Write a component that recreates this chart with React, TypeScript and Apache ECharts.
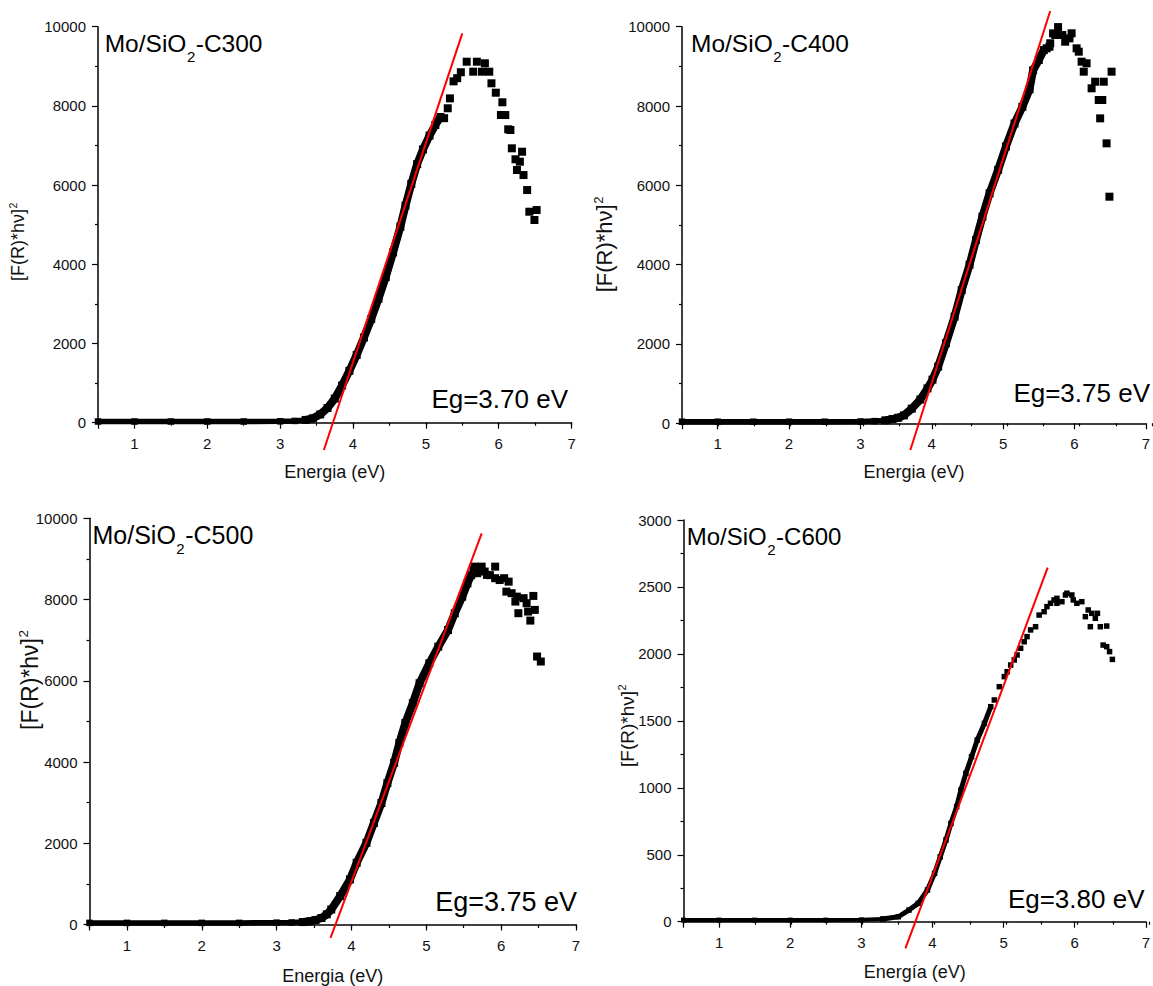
import React, { useEffect, useRef } from 'react';
import * as echarts from 'echarts';

const FONT = '"Liberation Sans", Arial, Helvetica, sans-serif';

// ---------------- data ----------------
const titlePrefix = 'Mo/SiO';
const titleSub = '2';
const titleSuffixes = ['-C300', '-C400', '-C500', '-C600'];
const egLabels = ['Eg=3.70 eV', 'Eg=3.75 eV', 'Eg=3.75 eV', 'Eg=3.80 eV'];
const xNames = ['Energia (eV)', 'Energia (eV)', 'Energia (eV)', 'Energía (eV)'];
const yNameMain = '[F(R)*hν]';
const yNameSup = '2';
const yMaxes = [10000, 10000, 10000, 3000];
const yIntervals = [2000, 2000, 2000, 500];
const xMin = 0.5;
const xMax = 7;
const edgeStart = 3.35; // energy where the flat baseline turns into the absorption edge

const dense300 = [
  [0.5, 30], [1.0, 30], [1.5, 30], [2.0, 30], [2.5, 30], [3.0, 35], [3.2, 45], [3.35, 70], [3.45, 110],
  [3.55, 210], [3.65, 370], [3.75, 610], [3.85, 940], [3.95, 1310], [4.05, 1710], [4.15, 2150], [4.25, 2620],
  [4.35, 3130], [4.45, 3680], [4.55, 4300], [4.65, 4950], [4.72, 5480], [4.8, 6030], [4.88, 6530], [4.96, 6900],
  [5.05, 7250], [5.13, 7520], [5.2, 7720],
];
const peak300 = [
  [5.25, 7690], [5.3, 7940], [5.33, 8190], [5.38, 8620], [5.43, 8700], [5.48, 8850], [5.56, 9116], [5.65, 8864],
  [5.7, 9116], [5.77, 8864], [5.81, 9076], [5.87, 8864], [5.9, 8571], [5.96, 8333], [6.03, 7770], [6.05, 8091],
  [6.09, 7769], [6.13, 7409], [6.16, 7391], [6.18, 6929], [6.23, 6652], [6.25, 6381], [6.29, 6591], [6.32, 6843],
  [6.34, 6254], [6.39, 5875], [6.42, 5328], [6.49, 5118], [6.52, 5370],
];
const fit300 = [[3.6, -690], [5.5, 9830]];

const dense400 = [
  [0.5, 40], [1.0, 40], [1.5, 40], [2.0, 40], [2.5, 40], [3.0, 45], [3.2, 55], [3.35, 75], [3.45, 105],
  [3.53, 140], [3.61, 200], [3.72, 370], [3.84, 600], [3.94, 880], [4.01, 1100], [4.09, 1430], [4.2, 2020],
  [4.32, 2690], [4.42, 3360], [4.53, 4000], [4.62, 4620], [4.71, 5210], [4.81, 5800], [4.93, 6390], [5.04, 6980],
  [5.16, 7560], [5.27, 7980], [5.37, 8420], [5.42, 8900], [5.5, 9160], [5.57, 9410],
];
const peak400 = [
  [5.61, 9455], [5.66, 9582], [5.65, 9496], [5.7, 9832], [5.73, 9791], [5.77, 9990], [5.83, 9790], [5.87, 9622],
  [5.93, 9706], [5.96, 9834], [6.03, 9455], [6.06, 9370], [6.1, 9118], [6.13, 8866], [6.17, 9077], [6.24, 8447],
  [6.29, 8613], [6.34, 8151], [6.36, 7689], [6.39, 8151], [6.41, 8613], [6.45, 7059], [6.49, 5714], [6.52, 8866],
];
const fit400 = [[3.7, -672], [5.66, 10395]];

const dense500 = [
  [0.5, 40], [1.0, 40], [1.5, 40], [2.0, 40], [2.5, 40], [3.0, 45], [3.2, 50], [3.35, 60], [3.45, 80],
  [3.52, 110], [3.6, 160], [3.67, 250], [3.73, 370], [3.85, 700], [3.98, 1110], [4.07, 1520], [4.2, 2010],
  [4.3, 2500], [4.4, 2990], [4.48, 3480], [4.57, 3980], [4.64, 4470], [4.72, 4960], [4.82, 5450], [4.91, 5940],
  [5.04, 6430], [5.16, 6840], [5.29, 7250], [5.38, 7660], [5.48, 8070], [5.55, 8400], [5.6, 8600],
];
const peak500 = [
  [5.63, 8730], [5.65, 8810], [5.68, 8648], [5.74, 8810], [5.78, 8689], [5.81, 8606], [5.85, 8600], [5.92, 8810],
  [5.92, 8525], [5.98, 8480], [6.04, 8525], [6.07, 8195], [6.1, 8441], [6.14, 8156], [6.19, 7950], [6.21, 8072],
  [6.23, 7664], [6.3, 8033], [6.34, 7910], [6.36, 7704], [6.39, 7482], [6.43, 8089], [6.45, 7745], [6.48, 6597],
  [6.53, 6474],
];
const fit500 = [[3.72, -328], [5.74, 9631]];

const dense600 = [
  [0.5, 12], [1.0, 12], [1.5, 12], [2.0, 12], [2.5, 12], [3.0, 14], [3.3, 20], [3.52, 37], [3.67, 87],
  [3.8, 137], [3.93, 237], [4.03, 361], [4.11, 485], [4.19, 610], [4.26, 734], [4.34, 859], [4.4, 983],
  [4.47, 1108], [4.55, 1232], [4.63, 1357], [4.73, 1481], [4.82, 1606],
];
const peak600 = [
  [4.87, 1656], [4.94, 1755], [5.01, 1830], [5.05, 1867], [5.1, 1917], [5.15, 1955], [5.19, 1992], [5.24, 2042],
  [5.29, 2091], [5.33, 2129], [5.38, 2179], [5.45, 2203], [5.5, 2290], [5.57, 2315], [5.61, 2353], [5.66, 2378],
  [5.71, 2403], [5.75, 2378], [5.75, 2415], [5.82, 2390], [5.87, 2440], [5.89, 2453], [5.96, 2440], [5.98, 2403],
  [6.03, 2378], [6.1, 2390], [6.15, 2278], [6.19, 2328], [6.22, 2203], [6.24, 2303], [6.29, 2266], [6.32, 2303],
  [6.36, 2203], [6.4, 2066], [6.45, 2208], [6.45, 2054], [6.49, 2017], [6.53, 1959],
];
const fit600 = [[3.62, -199], [5.62, 2644]];

const denseSets = [dense300, dense400, dense500, dense600];
const peakSets = [peak300, peak400, peak500, peak600];
const fitSets = [fit300, fit400, fit500, fit600];

// ---------------- layout (pixels) ----------------
const LAYOUT = [
  {
    grid: { left: 98, top: 26.7, width: 473.6, height: 396 },
    title: { x: 104.7, base: 51.7, fs: 24.5, subFs: 15, drop: 10 },
    eg: { right: 568, base: 408.3, fs: 26 },
    yName: { cx: 17.5, cy: 245, fs: 18, supFs: 10.5 },
    xNameGap: 40, marker: 8, flatW: 5.5, edgeW: 8,
  },
  {
    grid: { left: 682, top: 26.7, width: 470, height: 396.6 },
    title: { x: 691, base: 51.7, fs: 24.5, subFs: 15, drop: 10 },
    eg: { right: 1150, base: 401.7, fs: 26 },
    yName: { cx: 604.5, cy: 248.3, fs: 22, supFs: 13 },
    xNameGap: 39.5, marker: 8, flatW: 5.5, edgeW: 8,
  },
  {
    grid: { left: 89.5, top: 518.3, width: 486.5, height: 406.7 },
    title: { x: 92.5, base: 543.3, fs: 25, subFs: 15, drop: 10 },
    eg: { right: 577, base: 911.7, fs: 27 },
    yName: { cx: 29.6, cy: 684, fs: 23, supFs: 13.5 },
    xNameGap: 42.5, marker: 8, flatW: 5.5, edgeW: 8,
  },
  {
    grid: { left: 683.5, top: 520, width: 465.5, height: 401.7 },
    title: { x: 686.7, base: 545, fs: 24, subFs: 15, drop: 10 },
    eg: { right: 1144.5, base: 908.3, fs: 26 },
    yName: { cx: 627.5, cy: 729, fs: 19, supFs: 11 },
    xNameGap: 41, marker: 5.5, flatW: 4, edgeW: 5,
  },
];

const TEXT_COLOR = '#111';

function buildOption() {
  const canvas = document.createElement('canvas');
  const ctx = canvas.getContext('2d') as CanvasRenderingContext2D;
  const measure = (t: string, fs: number) => {
    ctx.font = `${fs}px ${FONT}`;
    return ctx.measureText(t).width;
  };
  const CENTRAL = 0.3465; // central baseline offset (em) above alphabetic baseline

  const grids: any[] = [];
  const xAxes: any[] = [];
  const yAxes: any[] = [];
  const series: any[] = [];
  const graphics: any[] = [];

  LAYOUT.forEach((L, i) => {
    grids.push({ ...L.grid, containLabel: false });
    xAxes.push({
      gridIndex: i,
      type: 'value',
      min: xMin,
      max: xMax,
      splitNumber: 6,
      name: xNames[i],
      nameLocation: 'middle',
      nameGap: L.xNameGap,
      nameTextStyle: { fontSize: 18, fontFamily: FONT, color: TEXT_COLOR },
      axisLine: { show: true, onZero: false, lineStyle: { color: '#000', width: 1.5 } },
      axisTick: { show: true, length: 6, lineStyle: { color: '#000', width: 1.2 } },
      axisLabel: {
        margin: 13,
        fontSize: 15,
        fontFamily: FONT,
        color: TEXT_COLOR,
        formatter: (v: number) => (Number.isInteger(v) ? String(v) : ''),
      },
      splitLine: { show: false },
    });
    yAxes.push({
      gridIndex: i,
      type: 'value',
      min: 0,
      max: yMaxes[i],
      interval: yIntervals[i],
      axisLine: { show: true, onZero: false, lineStyle: { color: '#000', width: 1.5 } },
      axisTick: { show: true, length: 6, lineStyle: { color: '#000', width: 1.2 } },
      minorTick: { show: true, splitNumber: 2, length: 3, lineStyle: { color: '#000', width: 1.2 } },
      axisLabel: {
        margin: 12,
        fontSize: 15,
        fontFamily: FONT,
        color: TEXT_COLOR,
        formatter: (v: number) => String(v),
      },
      splitLine: { show: false },
      minorSplitLine: { show: false },
    });

    // split the dense data into baseline and edge parts, sharing the junction point
    const pts = denseSets[i];
    let k = 0;
    pts.forEach((p, j) => {
      if (p[0] <= edgeStart) k = j;
    });
    const flat = pts.slice(0, k + 1);
    const edge = pts.slice(k);
    const common = {
      type: 'line',
      xAxisIndex: i,
      yAxisIndex: i,
      symbol: 'rect',
      symbolSize: L.marker,
      showSymbol: true,
      showAllSymbol: true,
      itemStyle: { color: '#000', opacity: 1 },
      silent: true,
    };
    series.push({ ...common, data: flat, symbolSize: L.flatW + 1, lineStyle: { color: '#000', width: L.flatW } });
    series.push({ ...common, data: edge, lineStyle: { color: '#000', width: L.edgeW } });
    series.push({
      type: 'scatter',
      xAxisIndex: i,
      yAxisIndex: i,
      data: peakSets[i],
      symbol: 'rect',
      symbolSize: L.marker,
      itemStyle: { color: '#000', opacity: 1 },
      silent: true,
    });

    // titles with subscript
    const t = L.title;
    const w1 = measure(titlePrefix, t.fs);
    const w2 = measure(titleSub, t.subFs);
    graphics.push({
      type: 'text', x: t.x, y: t.base - CENTRAL * t.fs, z: 100,
      style: { text: titlePrefix, fontSize: t.fs, fontFamily: FONT, fill: '#000', align: 'left', verticalAlign: 'middle' },
    });
    graphics.push({
      type: 'text', x: t.x + w1 + 0.5, y: t.base + t.drop - CENTRAL * t.subFs, z: 100,
      style: { text: titleSub, fontSize: t.subFs, fontFamily: FONT, fill: '#000', align: 'left', verticalAlign: 'middle' },
    });
    graphics.push({
      type: 'text', x: t.x + w1 + w2 + 1, y: t.base - CENTRAL * t.fs, z: 100,
      style: { text: titleSuffixes[i], fontSize: t.fs, fontFamily: FONT, fill: '#000', align: 'left', verticalAlign: 'middle' },
    });

    // Eg label
    const e = L.eg;
    graphics.push({
      type: 'text', x: e.right, y: e.base - CENTRAL * e.fs, z: 100,
      style: { text: egLabels[i], fontSize: e.fs, fontFamily: FONT, fill: '#000', align: 'right', verticalAlign: 'middle' },
    });

    // rotated y name with superscript
    const yn = L.yName;
    const wm = measure(yNameMain, yn.fs);
    const ws = measure(yNameSup, yn.supFs);
    graphics.push({
      type: 'text', x: yn.cx, y: yn.cy, rotation: Math.PI / 2, z: 100,
      style: { text: yNameMain, fontSize: yn.fs, fontFamily: FONT, fill: TEXT_COLOR, align: 'center', verticalAlign: 'middle' },
    });
    const baseX = yn.cx + CENTRAL * yn.fs;
    const supBaseX = baseX - 0.42 * yn.fs;
    graphics.push({
      type: 'text',
      x: supBaseX - CENTRAL * yn.supFs,
      y: yn.cy - wm / 2 - ws / 2 - 0.5,
      rotation: Math.PI / 2,
      z: 100,
      style: { text: yNameSup, fontSize: yn.supFs, fontFamily: FONT, fill: TEXT_COLOR, align: 'center', verticalAlign: 'middle' },
    });
  });

  // duplicate grids carrying the half-unit minor ticks of the x axes
  LAYOUT.forEach((L, i) => {
    grids.push({ ...L.grid, containLabel: false });
    xAxes.push({
      gridIndex: 4 + i,
      type: 'value',
      min: xMin,
      max: xMax,
      interval: 0.5,
      axisLine: { show: false, onZero: false },
      axisTick: { show: true, length: 3, lineStyle: { color: '#000', width: 1.2 } },
      axisLabel: { show: false },
      splitLine: { show: false },
    });
    yAxes.push({ gridIndex: 4 + i, type: 'value', min: 0, max: 1, show: false, splitLine: { show: false } });
  });

  // red linear fits on top
  LAYOUT.forEach((L, i) => {
    series.push({
      type: 'line',
      xAxisIndex: i,
      yAxisIndex: i,
      data: fitSets[i],
      symbol: 'none',
      clip: false,
      lineStyle: { color: '#ff0000', width: 2 },
      z: 5,
      silent: true,
    });
  });

  return {
    animation: false,
    backgroundColor: '#fff',
    textStyle: { fontFamily: FONT },
    grid: grids,
    xAxis: xAxes,
    yAxis: yAxes,
    series,
    graphic: { elements: graphics },
  };
}

export default function App() {
  const ref = useRef<HTMLDivElement>(null);
  useEffect(() => {
    if (!ref.current) return;
    const chart = echarts.init(ref.current, undefined, { renderer: 'svg' });
    chart.setOption(buildOption() as any);
    return () => chart.dispose();
  }, []);
  return (
    <div
      ref={ref}
      style={{ position: 'absolute', left: 0, top: 0, width: 1153, height: 986, background: '#fff' }}
    />
  );
}
